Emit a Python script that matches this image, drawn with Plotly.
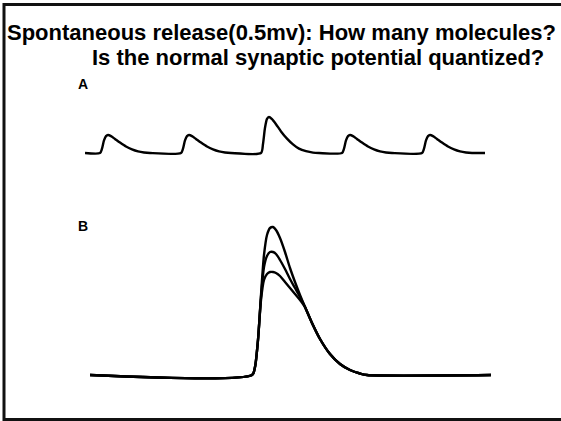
import plotly.graph_objects as go

W, H = 561, 421

# Panel A: spontaneous miniature potentials (time in ms, voltage in mV)
t_a = [0, 15, 17, 19, 21, 23, 26, 30, 35, 41, 47, 53, 59, 65,
       96, 98, 100, 102, 104, 107, 111, 116, 122, 128, 134, 140, 146,
       176, 178, 180, 182, 184, 187, 191, 196, 202, 208, 214, 221, 228, 234,
       257, 259, 261, 263, 265, 268, 272, 277, 283, 289, 295, 301, 307,
       337, 339, 341, 343, 345, 348, 352, 357, 363, 369, 375, 381, 387, 400]
v_a = [0, 0, 0.12, 0.35, 0.47, 0.5, 0.47, 0.39, 0.29, 0.18, 0.1, 0.045, 0.015, 0,
       0, 0.12, 0.35, 0.47, 0.5, 0.47, 0.39, 0.29, 0.18, 0.1, 0.045, 0.015, 0,
       0, 0.25, 0.7, 0.95, 1.0, 0.94, 0.8, 0.6, 0.4, 0.24, 0.12, 0.05, 0.01, 0,
       0, 0.12, 0.35, 0.47, 0.5, 0.47, 0.39, 0.29, 0.18, 0.1, 0.045, 0.015, 0,
       0, 0.12, 0.35, 0.47, 0.5, 0.47, 0.39, 0.29, 0.18, 0.1, 0.045, 0.015, 0, 0]

# Panel B: evoked potentials, three superimposed sweeps
t_b = [0, 162, 165, 168, 171, 174, 177, 180, 183, 186, 190, 195, 200, 205, 210,
       215, 222, 230, 240, 250, 260, 270, 277, 401]
v_b1 = [0, 0, 0.08, 0.35, 0.8, 1.2, 1.4, 1.47, 1.48, 1.45, 1.37, 1.23, 1.07, 0.93, 0.8,
        0.68, 0.52, 0.36, 0.21, 0.11, 0.05, 0.015, 0, 0]
v_b2 = [0, 0, 0.08, 0.35, 0.78, 1.08, 1.19, 1.23, 1.23, 1.21, 1.15, 1.06, 0.96, 0.87, 0.78,
        0.68, 0.52, 0.36, 0.21, 0.11, 0.05, 0.015, 0, 0]
v_b3 = [0, 0, 0.08, 0.35, 0.75, 0.95, 1.01, 1.03, 1.03, 1.02, 0.99, 0.93, 0.87, 0.81, 0.75,
        0.68, 0.52, 0.36, 0.21, 0.11, 0.05, 0.015, 0, 0]

line = dict(color="black", width=2.4, shape="spline", smoothing=0.7)

fig = go.Figure()
fig.add_trace(go.Scatter(x=t_a, y=v_a, mode="lines", line=line, xaxis="x", yaxis="y"))
for v in (v_b1, v_b2, v_b3):
    fig.add_trace(go.Scatter(x=t_b, y=v, mode="lines", line=line, xaxis="x2", yaxis="y2"))


def xdom(p0, p1):
    return [p0 / W, p1 / W]


def ydom(ptop, pbot):
    return [1 - pbot / H, 1 - ptop / H]


# A: baseline at 153px, 36 px per mV; B: baseline at 375px, 100 px per mV
hidden = dict(visible=False, showgrid=False, zeroline=False, fixedrange=True)
fig.update_layout(
    width=W, height=H,
    margin=dict(l=0, r=0, t=0, b=0),
    paper_bgcolor="white", plot_bgcolor="rgba(0,0,0,0)",
    showlegend=False,
    xaxis=dict(hidden, domain=xdom(85, 485), range=[0, 400]),
    yaxis=dict(hidden, domain=ydom(153 - 1.5 * 36, 153 + 0.2 * 36), range=[-0.2, 1.5]),
    xaxis2=dict(hidden, domain=xdom(90, 491), range=[0, 401], anchor="y2"),
    yaxis2=dict(hidden, domain=ydom(375 - 1.7 * 100, 375 + 0.2 * 100), range=[-0.2, 1.7], anchor="x2"),
    font=dict(family="Liberation Sans, Arial, sans-serif", color="black"),
)

fig.add_annotation(text="<b>Spontaneous release(0.5mv): How many molecules?</b>",
                   x=281 / W, y=1 - 32 / H, xref="paper", yref="paper",
                   showarrow=False, font=dict(size=22), xanchor="center", yanchor="middle")
fig.add_annotation(text="<b>Is the normal synaptic potential quantized?</b>",
                   x=318 / W, y=1 - 57 / H, xref="paper", yref="paper",
                   showarrow=False, font=dict(size=22), xanchor="center", yanchor="middle")
fig.add_annotation(text="<b>A</b>", x=83 / W, y=1 - 84 / H, xref="paper", yref="paper",
                   showarrow=False, font=dict(size=14), xanchor="center", yanchor="middle")
fig.add_annotation(text="<b>B</b>", x=83 / W, y=1 - 226 / H, xref="paper", yref="paper",
                   showarrow=False, font=dict(size=14), xanchor="center", yanchor="middle")

# slide frame: left, top and bottom edges (right edge runs off the page)
fig.add_shape(type="rect", xref="paper", yref="paper",
              x0=4 / W, x1=(W + 10) / W, y0=1 - 419.5 / H, y1=1 - 4.5 / H,
              line=dict(color="#111", width=3), fillcolor="rgba(0,0,0,0)")

page_js = "document.body.style.margin='0';"
fig.write_html("out.html", config={"displayModeBar": False}, post_script=page_js)
